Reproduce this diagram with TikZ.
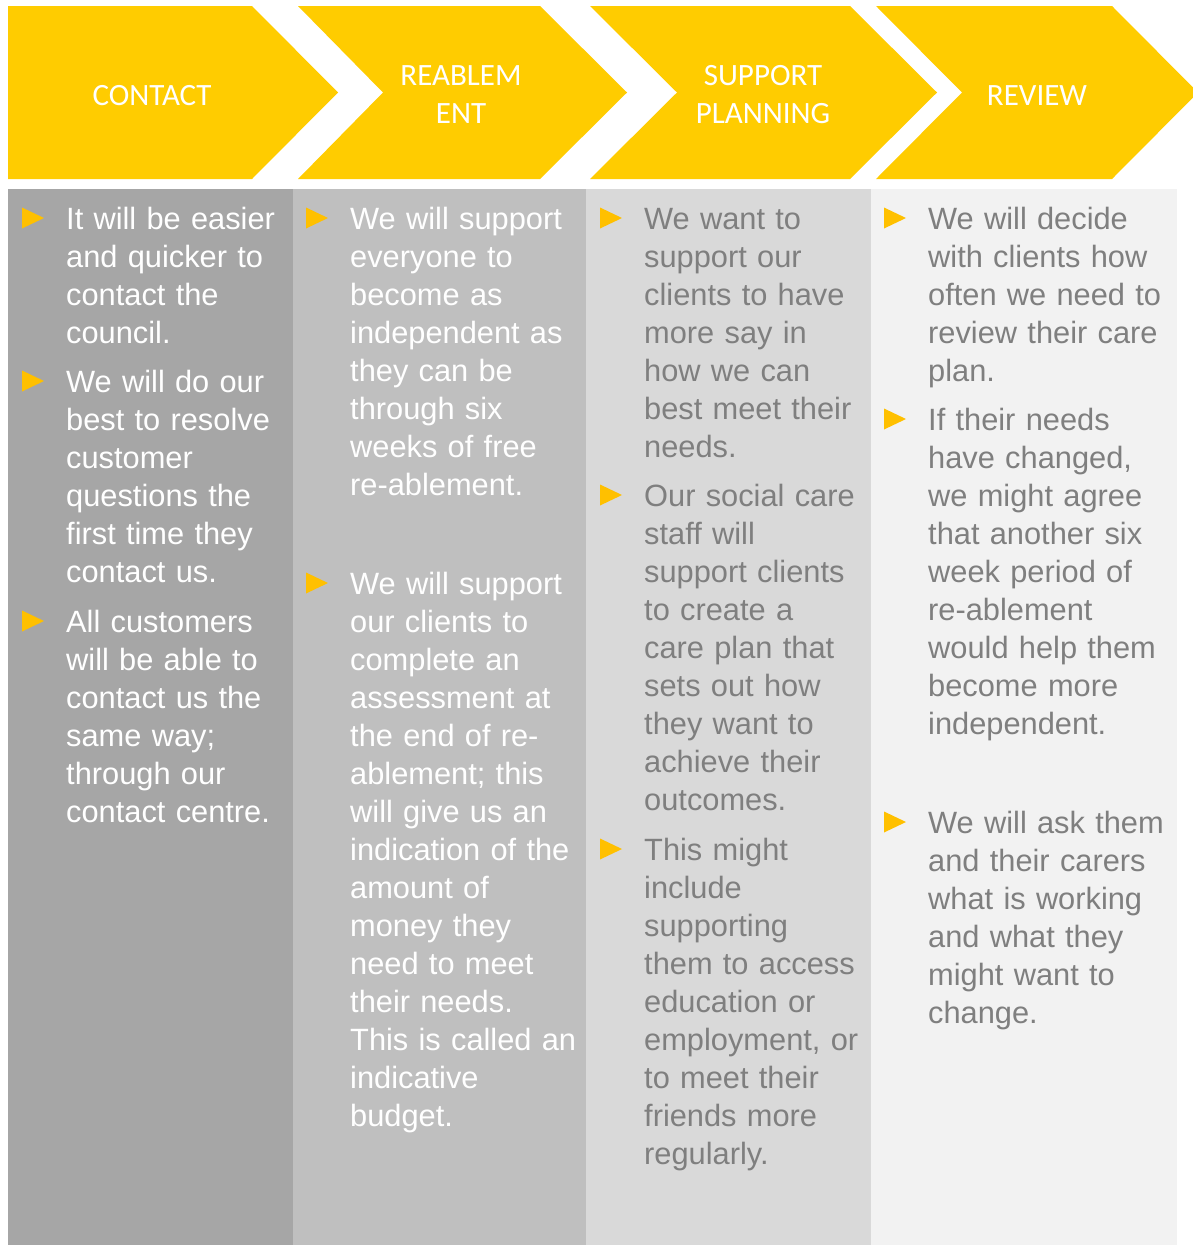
\documentclass[tikz,border=0pt]{standalone}
\usepackage{fontspec}
\setmainfont{Liberation Sans}
\newfontfamily\headfont{Carlito}
\definecolor{chev}{HTML}{FFCC00}
\definecolor{bulletc}{HTML}{FFC000}
\definecolor{colA}{HTML}{A6A6A6}
\definecolor{colB}{HTML}{BFBFBF}
\definecolor{colC}{HTML}{D9D9D9}
\definecolor{colD}{HTML}{F2F2F2}
\definecolor{darktext}{HTML}{7F7F7F}
\begin{document}
\begin{tikzpicture}[x=1pt,y=-1pt,
  head/.style={text=white,font=\headfont\fontsize{31}{38}\selectfont,
    text width=220pt,align=center,inner sep=0pt,anchor=base},
  body/.style={font=\fontsize{30.8}{38}\selectfont,text width=250pt,
    align=left,inner sep=0pt,anchor=base west},
  light/.style={body,text=white},
  dark/.style={body,text=darktext},
  tri/.pic={\fill[bulletc] (0,-10.5) -- (22,0) -- (0,10.5) -- cycle;}]
\useasboundingbox (0,0) rectangle (1192,1245);
\fill[white] (0,0) rectangle (1192,1245);

% column panels
\fill[colA] (8,189) rectangle (293,1245);
\fill[colB] (293,189) rectangle (586,1245);
\fill[colC] (586,189) rectangle (871,1245);
\fill[colD] (871,189) rectangle (1177,1245);

% process chevrons
\fill[chev] (8,6) -- (252,6) -- (338,92.5) -- (252,179) -- (8,179) -- cycle;
\fill[chev] (298,6) -- (540,6) -- (627,92.5) -- (540,179) -- (298,179) -- (383,92.5) -- cycle;
\fill[chev] (590,6) -- (850,6) -- (937,92.5) -- (850,179) -- (590,179) -- (677,92.5) -- cycle;
\fill[chev] (876,6) -- (1112,6) -- (1198,92.5) -- (1112,179) -- (876,179) -- (962,92.5) -- cycle;

% chevron titles
\node[head] (h1) at (152,105) {CONTACT};
\node[head] (h2) at (461,85) {REABLEM\\ENT};
\node[head] (h3) at (763,85) {SUPPORT\\PLANNING};
\node[head] (h4) at (1037,105) {REVIEW};

% column 1
\pic at (22,218) {tri};
\node[light] (a1) at (66,229) {It will be easier\\and quicker to\\contact the\\council.};
\pic at (22,381) {tri};
\node[light] (a2) at (66,392) {We will do our\\best to resolve\\customer\\questions the\\first time they\\contact us.};
\pic at (22,621) {tri};
\node[light] (a3) at (66,632) {All customers\\will be able to\\contact us the\\same way;\\through our\\contact centre.};

% column 2
\pic at (306,218) {tri};
\node[light] (b1) at (350,229) {We will support\\everyone to\\become as\\independent as\\they can be\\through six\\weeks of free\\re-ablement.};
\pic at (306,583) {tri};
\node[light] (b2) at (350,594) {We will support\\our clients to\\complete an\\assessment at\\the end of re-\\ablement; this\\will give us an\\indication of the\\amount of\\money they\\need to meet\\their needs.\\This is called an\\indicative\\budget.};

% column 3
\pic at (600,218) {tri};
\node[dark] (c1) at (644,229) {We want to\\support our\\clients to have\\more say in\\how we can\\best meet their\\needs.};
\pic at (600,495) {tri};
\node[dark] (c2) at (644,506) {Our social care\\staff will\\support clients\\to create a\\care plan that\\sets out how\\they want to\\achieve their\\outcomes.};
\pic at (600,849) {tri};
\node[dark] (c3) at (644,860) {This might\\include\\supporting\\them to access\\education or\\employment, or\\to meet their\\friends more\\regularly.};

% column 4
\pic at (884,218) {tri};
\node[dark] (d1) at (928,229) {We will decide\\with clients how\\often we need to\\review their care\\plan.};
\pic at (884,419) {tri};
\node[dark] (d2) at (928,430) {If their needs\\have changed,\\we might agree\\that another six\\week period of\\re-ablement\\would help them\\become more\\independent.};
\pic at (884,822) {tri};
\node[dark] (d3) at (928,833) {We will ask them\\and their carers\\what is working\\and what they\\might want to\\change.};
\end{tikzpicture}
\end{document}
